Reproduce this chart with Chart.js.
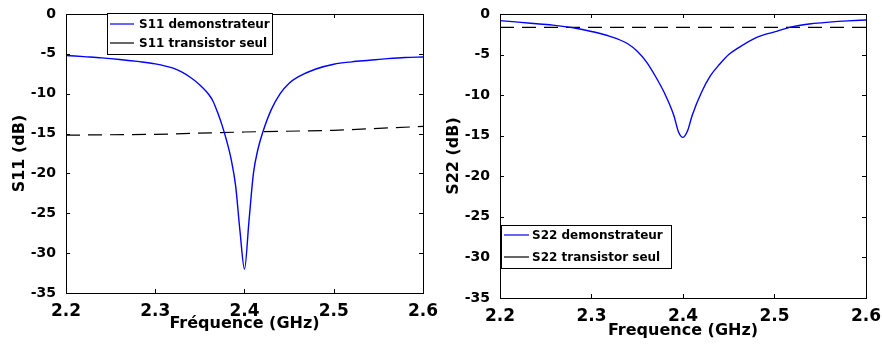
<!DOCTYPE html>
<html>
<head>
<meta charset="utf-8">
<script src="https://cdn.jsdelivr.net/npm/chart.js@4/dist/chart.umd.min.js"></script>
<style>
  html, body { margin: 0; padding: 0; background: #fff; }
  #wrap { position: relative; width: 882px; height: 344px; }
  canvas { position: absolute; top: 0; }
  #c1 { left: 0; }
  #c2 { left: 441px; }
</style>
</head>
<body>
<div id="wrap">
  <canvas id="c1" width="441" height="344"></canvas>
  <canvas id="c2" width="441" height="344"></canvas>
</div>
<script>
// ---- Data ----
const xTicks = [2.2, 2.3, 2.4, 2.5, 2.6];
const yTicks = [0, -5, -10, -15, -20, -25, -30, -35];

const s11Freq = [2.2, 2.22, 2.24, 2.26, 2.28, 2.3, 2.32, 2.33, 2.34, 2.35, 2.36, 2.365, 2.37, 2.375, 2.38, 2.385, 2.39, 2.395, 2.4, 2.405, 2.41, 2.415, 2.42, 2.43, 2.44, 2.45, 2.46, 2.48, 2.5, 2.52, 2.54, 2.56, 2.58, 2.6];
const s11Demo = [-5.2, -5.35, -5.5, -5.7, -5.95, -6.25, -6.8, -7.3, -8.0, -8.9, -10.1, -11.0, -12.4, -14.0, -15.9, -18.2, -21.5, -27.3, -32.0, -26.0, -20.0, -17.0, -15.0, -12.0, -10.0, -8.7, -7.9, -6.9, -6.3, -6.0, -5.8, -5.6, -5.45, -5.4];
const s11TransFreq = [2.2, 2.3, 2.4, 2.5, 2.6];
const s11Trans = [-15.2, -15.1, -14.8, -14.6, -14.1];

const s22Freq = [2.2, 2.22, 2.24, 2.26, 2.28, 2.3, 2.32, 2.34, 2.35, 2.36, 2.37, 2.38, 2.39, 2.395, 2.4, 2.405, 2.41, 2.42, 2.43, 2.44, 2.45, 2.46, 2.48, 2.5, 2.52, 2.54, 2.56, 2.58, 2.6];
const s22Demo = [-0.82, -1.0, -1.2, -1.4, -1.7, -2.15, -2.75, -3.7, -4.6, -5.9, -7.7, -9.8, -12.5, -14.5, -15.2, -14.4, -12.5, -9.7, -7.6, -6.2, -5.0, -4.2, -2.9, -2.2, -1.55, -1.2, -1.0, -0.85, -0.74];
const s22TransFreq = [2.2, 2.3, 2.4, 2.5, 2.6];
const s22Trans = [-1.65, -1.65, -1.65, -1.65, -1.65];

const s11Labels = ["S11 demonstrateur", "S11 transistor seul"];
const s22Labels = ["S22 demonstrateur", "S22 transistor seul"];
const xTitle1 = "Fréquence (GHz)";
const xTitle2 = "Frequence (GHz)";
const yTitle1 = "S11 (dB)";
const yTitle2 = "S22 (dB)";

const FONT = '"DejaVu Sans", "Liberation Sans", Arial, sans-serif';
const toXY = (xs, ys) => xs.map((x, i) => ({x: x, y: ys[i]}));

// ---- Plugin: frame, inward ticks, legend ----
const matlabPlugin = {
  id: 'matlab',
  afterDraw(chart, args, opts) {
    const ctx = chart.ctx;
    const a = chart.chartArea;
    const xs = chart.scales.x, ys = chart.scales.y;
    ctx.save();
    ctx.strokeStyle = '#000';
    ctx.lineWidth = 1;
    ctx.strokeRect(Math.round(a.left) + 0.5, Math.round(a.top) + 0.5, Math.round(a.right - a.left), Math.round(a.bottom - a.top));
    const tl = 4;
    ctx.beginPath();
    xTicks.forEach(v => {
      const px = Math.round(xs.getPixelForValue(v)) + 0.5;
      ctx.moveTo(px, a.bottom); ctx.lineTo(px, a.bottom - tl);
      ctx.moveTo(px, a.top); ctx.lineTo(px, a.top + tl);
    });
    yTicks.forEach(v => {
      const py = Math.round(ys.getPixelForValue(v)) + 0.5;
      ctx.moveTo(a.left, py); ctx.lineTo(a.left + tl, py);
      ctx.moveTo(a.right, py); ctx.lineTo(a.right - tl, py);
    });
    ctx.stroke();

    // legend
    const L = opts.legend;
    if (L) {
      ctx.fillStyle = '#fff';
      ctx.fillRect(L.x, L.y, L.w, L.h);
      ctx.strokeStyle = '#000';
      ctx.lineWidth = 1;
      ctx.strokeRect(L.x + 0.5, L.y + 0.5, L.w, L.h);
      ctx.font = 'bold 12px ' + FONT;
      ctx.textBaseline = 'middle';
      ctx.textAlign = 'left';
      L.items.forEach((it, i) => {
        const ry = L.y + L.rows[i];
        ctx.strokeStyle = it.color;
        ctx.lineWidth = 1.2;
        ctx.beginPath();
        ctx.moveTo(L.x + L.lineX0, ry);
        ctx.lineTo(L.x + L.lineX1, ry);
        ctx.stroke();
        ctx.fillStyle = '#000';
        ctx.fillText(it.text, L.x + L.textX, ry + 1);
      });
    }
    ctx.restore();
  }
};

function makeChart(id, cfg) {
  return new Chart(document.getElementById(id), {
    type: 'line',
    data: {
      datasets: [
        { data: cfg.demo, borderColor: '#0000ff', borderWidth: 1.4, pointRadius: 0, cubicInterpolationMode: 'monotone', fill: false },
        { data: cfg.trans, borderColor: '#000', borderWidth: 1.2, borderDash: [14, 8], pointRadius: 0, tension: 0, fill: false }
      ]
    },
    options: {
      responsive: false,
      devicePixelRatio: 1,
      animation: false,
      layout: { padding: { top: 14, right: cfg.padRight, left: 0, bottom: 0 } },
      plugins: {
        legend: { display: false },
        tooltip: { enabled: false },
        matlab: { legend: cfg.legend }
      },
      scales: {
        x: {
          type: 'linear', min: 2.2, max: 2.6,
          afterBuildTicks: s => { s.ticks = xTicks.map(v => ({value: v})); },
          afterFit: s => { s.height = cfg.xH; },
          grid: { display: false }, border: { display: false },
          ticks: { color: '#000', padding: 0, maxRotation: 0, autoSkip: false,
                   font: { family: FONT, size: 17, weight: 'bold' },
                   callback: v => v.toFixed(1) },
          title: { display: true, text: cfg.xTitle, color: '#000', padding: { top: 0, bottom: cfg.xTitlePad },
                   font: { family: FONT, size: 16, weight: 'bold' } }
        },
        y: {
          type: 'linear', min: -35, max: 0,
          afterBuildTicks: s => { s.ticks = yTicks.map(v => ({value: v})); },
          afterFit: s => { s.width = cfg.yW; },
          grid: { display: false }, border: { display: false },
          ticks: { color: '#000', padding: 2, autoSkip: false,
                   font: { family: FONT, size: 14, weight: 'bold' } },
          title: { display: true, text: cfg.yTitle, color: '#000', padding: { top: cfg.yTitlePad, bottom: 0 },
                   font: { family: FONT, size: 16, weight: 'bold' } }
        }
      }
    },
    plugins: [matlabPlugin]
  });
}

makeChart('c1', {
  demo: toXY(s11Freq, s11Demo),
  trans: toXY(s11TransFreq, s11Trans),
  padRight: 18, xH: 51, yW: 66, xTitle: xTitle1, yTitle: yTitle1, xTitlePad: 11, yTitlePad: 10,
  legend: { x: 107, y: 13, w: 165, h: 41, lineX0: 3, lineX1: 27, textX: 32, rows: [11, 30],
            items: [{text: s11Labels[0], color: '#0000ff'}, {text: s11Labels[1], color: '#000'}] }
});

makeChart('c2', {
  demo: toXY(s22Freq, s22Demo),
  trans: toXY(s22TransFreq, s22Trans),
  padRight: 16, xH: 46, yW: 59, xTitle: xTitle2, yTitle: yTitle2, xTitlePad: 4, yTitlePad: 3,
  legend: { x: 60, y: 225, w: 170, h: 43, lineX0: 3, lineX1: 28, textX: 31, rows: [10, 32],
            items: [{text: s22Labels[0], color: '#0000ff'}, {text: s22Labels[1], color: '#000'}] }
});
</script>
</body>
</html>
